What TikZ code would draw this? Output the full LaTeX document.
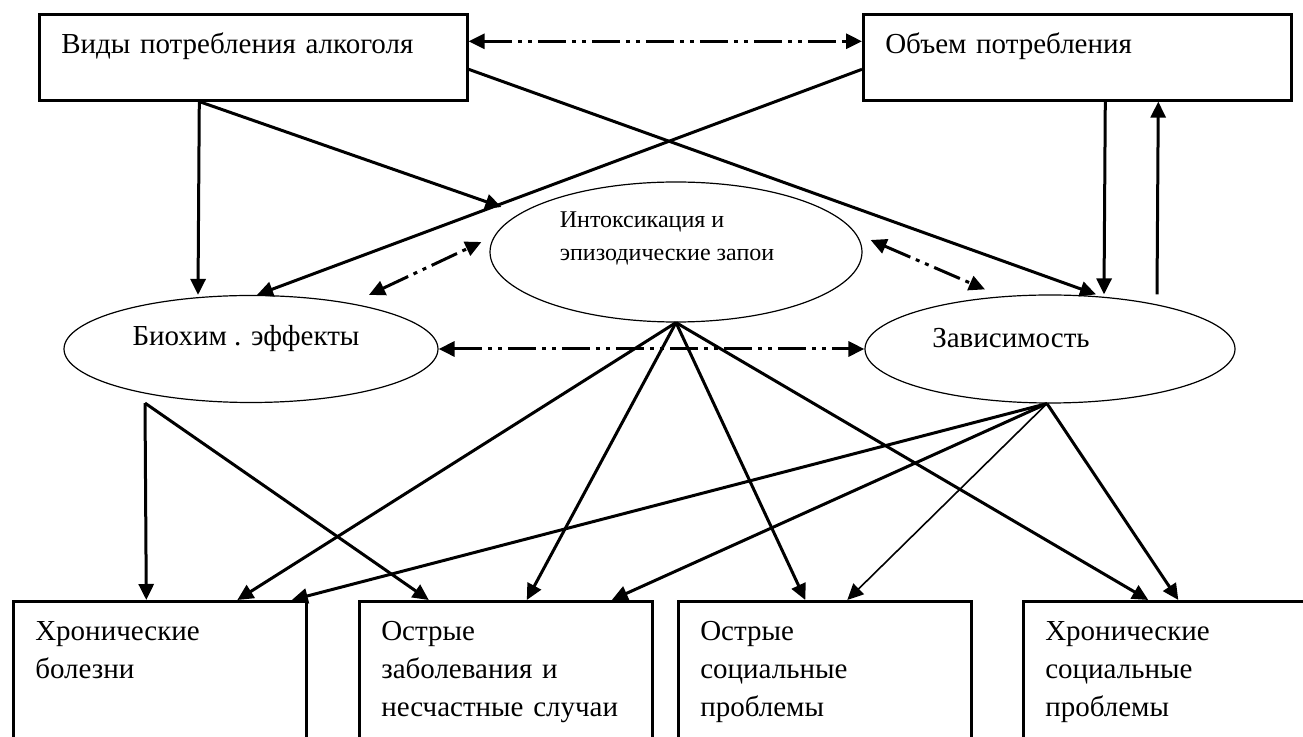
\documentclass[tikz,border=0pt]{standalone}
\usepackage{fontspec}
\setmainfont{Liberation Serif}
\usetikzlibrary{shapes.geometric}
\usetikzlibrary{arrows.meta}
\usetikzlibrary{positioning}

\tikzset{
    box/.style={draw, line width=1.3pt, anchor=north west, align=left, inner xsep=11pt, inner ysep=6pt, text height=13.5pt, font=\fontsize{14.5}{19}\selectfont},
    oval/.style={draw, ellipse, line width=0.6pt, inner sep=0pt},
    lbl/.style={font=\fontsize{14.5}{19}\selectfont},
    conn/.style={line width=1.5pt, -{Triangle[length=8pt,width=7.5pt]}},
    thinconn/.style={line width=0.8pt, -{Triangle[length=8pt,width=7.5pt]}},
    dda/.style={line width=1.5pt, {Triangle[length=8pt,width=7.5pt]}-{Triangle[length=8pt,width=7.5pt]}, dash pattern=on 14pt off 3pt on 2pt off 3pt on 2pt off 3pt},
}

\begin{document}
\begin{tikzpicture}[x=0.5pt, y=-0.5pt]
    \useasboundingbox (0,0) rectangle (1303,737);

    \node[box, text width=192pt, text depth=17.5pt] (vidy) at (38,13) {Виды потребления алкоголя};
    \node[box, text width=192pt, text depth=17.5pt] (obem) at (862,13) {Объем потребления};

    \node[oval, minimum width=186pt, minimum height=70pt, label={[name=intoxt, align=left, font=\fontsize{12}{16.5}\selectfont, xshift=-4.5pt, yshift=6.75pt]center:Интоксикация и\\эпизодические запои}] (intox) at (676,252) {};
    \node[oval, minimum width=187pt, minimum height=53.5pt, label={[name=biot, lbl, xshift=-2.5pt, yshift=5pt]center:Биохим . эффекты}] (bio) at (251,349) {};
    \node[oval, minimum width=185pt, minimum height=54pt, label={[name=zavt, lbl, xshift=-19.5pt, yshift=5.5pt]center:Зависимость}] (zav) at (1050,349) {};

    \node[box, text width=124.5pt, text depth=100pt] (hronb) at (12,600) {Хронические\\болезни};
    \node[box, text width=124.5pt, text depth=100pt] (ostrz) at (358,600) {Острые\\заболевания и\\несчастные случаи};
    \node[box, text width=124.5pt, text depth=100pt] (ostrs) at (677,600) {Острые\\социальные\\проблемы};
    \node[box, text width=124.5pt, text depth=100pt] (hrons) at (1022,600) {Хронические\\социальные\\проблемы};

    \draw[dda] ([yshift=8pt]vidy.east) -- ([yshift=8pt]obem.west);
    \draw[conn] ([xshift=-27pt]vidy.south) -- ([xshift=-26.5pt]bio.north);
    \draw[conn] ([xshift=-27pt]vidy.south) -- ([xshift=6pt,yshift=22.5pt]intox.west);
    \draw[conn] ([yshift=-6pt]obem.west) -- ([xshift=3pt]bio.north);
    \draw[conn] ([yshift=-6pt]vidy.east) -- ([xshift=23pt]zav.north);
    \draw[conn] ([xshift=14pt]obem.south) -- ([xshift=27pt]zav.north);
    \draw[conn] ([xshift=53.5pt]zav.north) -- ([xshift=40.5pt]obem.south);

    \draw[dda] ([xshift=59pt]bio.north) -- ([xshift=-4pt,yshift=5pt]intox.west);
    \draw[dda] ([xshift=4pt,yshift=6pt]intox.east) -- ([xshift=-32.5pt,yshift=2.5pt]zav.north);
    \draw[dda] (bio.east) -- (zav.west);

    \foreach \n/\s in {hronb/-6.75, ostrz/-38.5}
        \draw[conn] ([xshift=-53pt]bio.south) -- ([xshift=\s pt]\n.north);
    \foreach \n/\s in {hronb/38.75, ostrz/10.5, ostrs/-9.75, hrons/-10.75}
        \draw[conn] (intox.south) -- ([xshift=\s pt]\n.north);
    \foreach \n/\s in {hronb/66, ostrz/53, hrons/4.25}
        \draw[conn] ([xshift=-1.5pt]zav.south) -- ([xshift=\s pt]\n.north);
    \draw[thinconn] ([xshift=-1.5pt]zav.south) -- ([xshift=11.25pt]ostrs.north);
\end{tikzpicture}
\end{document}
